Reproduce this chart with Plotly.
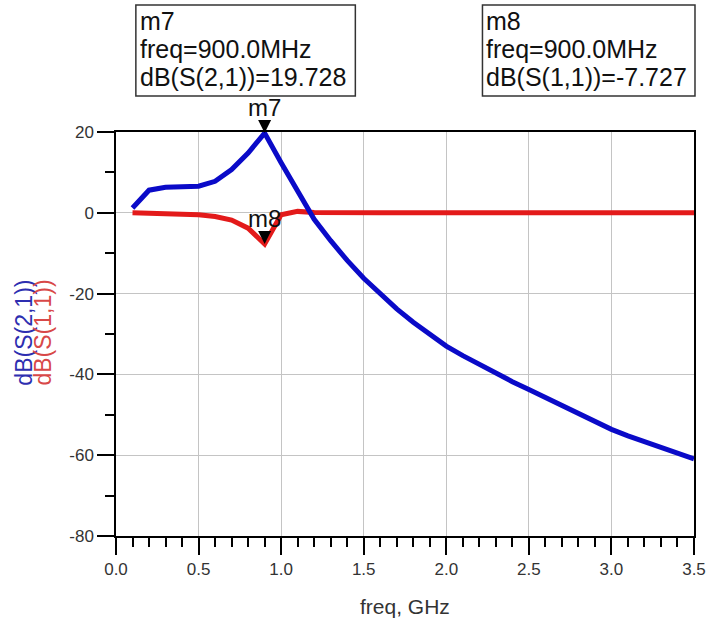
import plotly.graph_objects as go

# ---------------- data ----------------
freq_ghz = [0.1, 0.2, 0.3, 0.4, 0.5, 0.6, 0.7, 0.8, 0.9, 1.0,
            1.1, 1.2, 1.3, 1.4, 1.5, 1.6, 1.7, 1.8, 1.9, 2.0,
            2.1, 2.2, 2.3, 2.4, 2.5, 2.6, 2.7, 2.8, 2.9, 3.0,
            3.1, 3.2, 3.3, 3.4, 3.5]
s21_db = [1.2, 5.6, 6.3, 6.5, 6.6, 7.8, 10.7, 14.8, 19.728, 12.4,
          5.1, -1.6, -6.9, -11.8, -16.2, -20.2, -23.8, -27.1, -30.1, -33.0,
          -35.35, -37.6, -39.75, -41.8, -43.75, -45.75, -47.75, -49.7, -51.65, -53.6,
          -55.2, -56.7, -58.2, -59.6, -60.9]
s11_db = [0.0, -0.1, -0.3, -0.4, -0.5, -0.9, -1.8, -3.8, -7.727, -0.5,
          0.35, 0.1, 0.0, 0.0, 0.0, 0.0, 0.0, 0.0, 0.0, 0.0,
          0.0, 0.0, 0.0, 0.0, 0.0, 0.0, 0.0, 0.0, 0.0, 0.0,
          0.0, 0.0, 0.0, 0.0, 0.0]
x_ticks = [0.0, 0.5, 1.0, 1.5, 2.0, 2.5, 3.0, 3.5]
y_ticks = [-80, -60, -40, -20, 0, 20]
x_range = [0.0, 3.5]
y_range = [-80, 20]
marker_freq = 0.9  # GHz, markers m7 / m8

# ---------------- style ----------------
BLUE = "#0a0ac8"
RED = "#e31a1a"
FONT = "Liberation Sans, Arial, sans-serif"

W, H = 718, 624
L, R, T, B = 116, 20, 132, 88
pw, ph = W - L - R, H - T - B


def px2paper_x(px):
    return (px - L) / pw


def px2paper_y(py):
    return (H - B - py) / ph


def data2paper_x(v):
    return (v - x_range[0]) / (x_range[1] - x_range[0])


def data2paper_y(v):
    return (v - y_range[0]) / (y_range[1] - y_range[0])


mi = freq_ghz.index(marker_freq)

fig = go.Figure()
fig.add_trace(go.Scatter(x=freq_ghz, y=s11_db, mode="lines",
                         line=dict(color=RED, width=5), name="dB(S(1,1))"))
fig.add_trace(go.Scatter(x=freq_ghz, y=s21_db, mode="lines",
                         line=dict(color=BLUE, width=5), name="dB(S(2,1))"))

shapes = []
annotations = []

# marker triangles and labels
for name, series in (("m7", s21_db), ("m8", s11_db)):
    shapes.append(dict(type="path", xref="paper", yref="paper",
                       xsizemode="pixel", ysizemode="pixel",
                       xanchor=data2paper_x(freq_ghz[mi]),
                       yanchor=data2paper_y(series[mi]),
                       path="M -6.5 13 L 6.5 13 L 0 0 Z",
                       fillcolor="#000", line=dict(color="#000", width=0)))
    annotations.append(dict(x=freq_ghz[mi], y=series[mi], xref="x", yref="y",
                            text=name, showarrow=False, yanchor="bottom",
                            yshift=10, font=dict(family=FONT, size=24, color="#111")))

# marker readout boxes
boxes = [
    ("m7", "dB(S(2,1))", s21_db[mi], 136, 357),
    ("m8", "dB(S(1,1))", s11_db[mi], 485, 699),
]
for name, label, val, bx0, bx1 in boxes:
    shapes.append(dict(type="rect", xref="paper", yref="paper",
                       x0=px2paper_x(bx0), x1=px2paper_x(bx1),
                       y0=px2paper_y(96), y1=px2paper_y(5),
                       line=dict(color="#333", width=1.5), fillcolor="rgba(0,0,0,0)"))
    lines = [name, f"freq={marker_freq * 1000:.1f}MHz", f"{label}={val:.3f}"]
    for k, (txt, cy) in enumerate(zip(lines, [21, 49, 77])):
        annotations.append(dict(x=px2paper_x(bx0 + 2), y=px2paper_y(cy),
                                xref="paper", yref="paper", xanchor="left",
                                yanchor="middle", text=txt, showarrow=False,
                                font=dict(family=FONT, size=25, color="#111")))

# y axis title: two coloured rotated lines
for txt, col, cx in (("dB(S(2,1))", "#2e2eb0", 23), ("dB(S(1,1))", "#d84848", 42)):
    annotations.append(dict(
        x=px2paper_x(cx), y=px2paper_y(333), xref="paper", yref="paper",
        text=txt, textangle=-90, showarrow=False, xanchor="center", yanchor="middle",
        font=dict(family=FONT, size=23, color=col)))
# x axis title
annotations.append(dict(
    x=px2paper_x(407), y=px2paper_y(606), xref="paper", yref="paper",
    text="freq, GHz", showarrow=False, xanchor="center", yanchor="middle",
    font=dict(family=FONT, size=21, color="#333")))

axis_common = dict(
    showline=True, linecolor="#000", linewidth=1.5, mirror=True,
    showgrid=True, gridcolor="#c4c4c4", gridwidth=1,
    ticks="outside", tickcolor="#000", tickwidth=1.5, ticklen=17,
    tickfont=dict(family=FONT, size=17, color="#333"),
    zeroline=False,
)

fig.update_layout(
    width=W, height=H,
    margin=dict(l=L, r=R, t=T, b=B, pad=0),
    paper_bgcolor="white", plot_bgcolor="white",
    showlegend=False,
    shapes=shapes, annotations=annotations,
    xaxis=dict(range=x_range, tickvals=x_ticks,
               ticktext=[f"{v:.1f}" for v in x_ticks],
               minor=dict(dtick=0.1, ticks="outside", ticklen=9,
                          tickcolor="#000", tickwidth=1.5, showgrid=False),
               **axis_common),
    yaxis=dict(range=y_range, tickvals=y_ticks,
               ticktext=[str(v) for v in y_ticks],
               minor=dict(dtick=10, ticks="outside", ticklen=9,
                          tickcolor="#000", tickwidth=1.5, showgrid=False),
               **axis_common),
)

fig.write_html("out.html")
